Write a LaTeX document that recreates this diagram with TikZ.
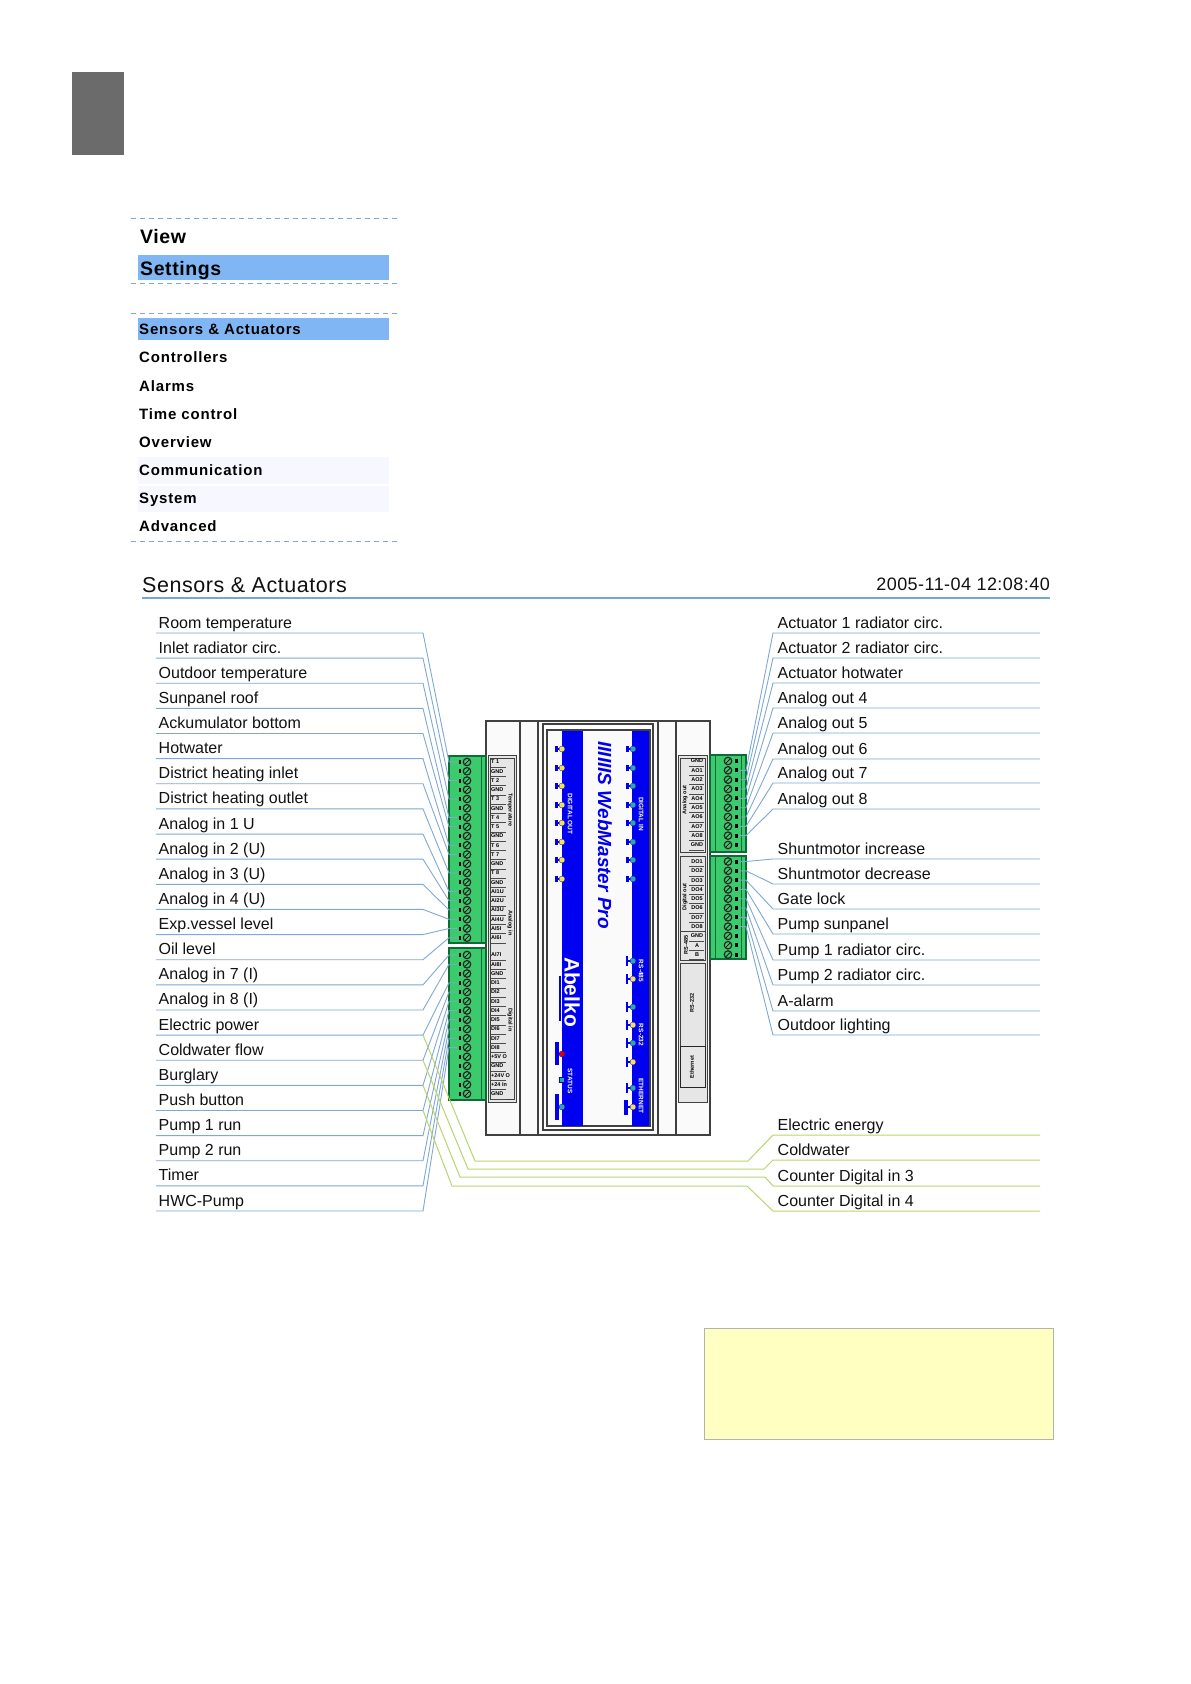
\documentclass[tikz,border=0pt]{standalone}
\usepackage{fontspec}
\setmainfont{Liberation Sans}
\newfontfamily\menufont[LetterSpace=5.5]{Liberation Sans}
\newfontfamily\menubigfont[LetterSpace=3]{Liberation Sans}
\newfontfamily\titlefont[LetterSpace=2.5]{Liberation Sans}
\definecolor{wire}{HTML}{7FA8D2}
\definecolor{headline}{HTML}{78A6D4}
\definecolor{greenwire}{HTML}{B9D56B}
\definecolor{menublue}{HTML}{80B6F4}
\definecolor{dash}{HTML}{7FA8D2}
\definecolor{termgreen}{HTML}{3CCB6C}
\definecolor{termdark}{HTML}{0E6B35}
\definecolor{devblue}{HTML}{0000F0}
\definecolor{txt}{HTML}{111111}
\definecolor{ledy}{HTML}{F4E04A}
\definecolor{ledt}{HTML}{2FA6A0}
\definecolor{stripfill}{HTML}{E6E6E6}
\definecolor{notefill}{HTML}{FFFFC2}
\tikzset{
 x=1pt,y=-1pt,
 lbl/.style={anchor=base west,inner sep=0pt,text=txt,font=\fontsize{16}{16}\selectfont},
 menuitem/.style={anchor=base west,inner sep=0pt,text=black,font=\menufont\bfseries\fontsize{15}{15}\selectfont},
 menubig/.style={anchor=base west,inner sep=0pt,text=black,font=\menubigfont\bfseries\fontsize{19.5}{20}\selectfont},
 dashrule/.style={draw=dash,line width=1pt,dash pattern=on 5pt off 4pt},
 wireline/.style={draw=wire,line width=0.9pt},
 gwire/.style={draw=greenwire,line width=1pt},
 devline/.style={draw=black!75,line width=1.1pt},
 strip/.style={draw=black!75,line width=1pt,fill=stripfill},
 termblock/.style={draw=termdark,line width=1.2pt,fill=termgreen},
 screw/.style={circle,draw=black!85,line width=1.2pt,fill=termgreen,minimum size=7.5pt,inner sep=0pt},
 rowtxt/.style={inner sep=0pt,text=black,font=\bfseries\fontsize{5.5}{6}\selectfont},
 sidetxt/.style={inner sep=0pt,text=black,font=\bfseries\fontsize{5.5}{6}\selectfont},
 panelw/.style={inner sep=0pt,text=white,font=\bfseries\fontsize{6.5}{7}\selectfont,rotate=-90},
 ledbar/.style={fill=devblue,draw=none},
}
\begin{document}
\begin{tikzpicture}
\useasboundingbox (0,0) rectangle (1191,1684);
\fill[white] (0,0) rectangle (1191,1684);
\fill[black!58] (72,72) rectangle (124,155);
% menus
\fill[menublue] (138,255) rectangle (389,280);
\fill[menublue] (138,318) rectangle (389,340);
\fill[blue!3] (138,457) rectangle (389,484);
\fill[blue!3] (138,486) rectangle (389,512);
\coordinate (da) at (131,218); \coordinate (db) at (398,218);
\coordinate (dc) at (131,283); \coordinate (dd) at (398,283);
\coordinate (de) at (131,313); \coordinate (df) at (398,313);
\coordinate (dg) at (131,541); \coordinate (dh) at (398,541);
\draw[dashrule] (da)--(db); \draw[dashrule] (dc)--(dd); \draw[dashrule] (de)--(df); \draw[dashrule] (dg)--(dh);
\node[menubig] (mv) at (140,243) {View};
\node[menubig] (ms) at (140,275) {Settings};
\foreach \n/\yy/\txta in {a/334/Sensors \& Actuators,b/362/Controllers,c/391/Alarms,d/419/Time control,e/447/Overview,f/475/Communication,g/503/System,h/531/Advanced}
 \node[menuitem] (m\n) at (139,\yy) {\txta};
% header
\node[anchor=base west,inner sep=0pt,text=txt,font=\titlefont\fontsize{21.5}{22}\selectfont] (title) at (142,592) {Sensors \& Actuators};
\node[anchor=base east,inner sep=0pt,text=txt,font=\titlefont\fontsize{18}{18}\selectfont] (date) at (1050,590) {2005-11-04 12:08:40};
\coordinate (ha) at (142,598); \coordinate (hb) at (1050,598);
\draw[draw=headline,line width=1.8pt] (ha)--(hb);
% device
\draw[devline,fill=black!2] (486,721) rectangle (710,1135);
\coordinate (v1a) at (520,721); \coordinate (v1b) at (520,1135);
\coordinate (v2a) at (538,721); \coordinate (v2b) at (538,1135);
\coordinate (v3a) at (658,721); \coordinate (v3b) at (658,1135);
\coordinate (v4a) at (676,721); \coordinate (v4b) at (676,1135);
\draw[devline] (v1a)--(v1b); \draw[devline] (v2a)--(v2b); \draw[devline] (v3a)--(v3b); \draw[devline] (v4a)--(v4b);
\draw[devline,fill=white] (543,724) rectangle (653,1130);
\draw[devline,fill=black!2] (547,730) rectangle (650,1126);
\fill[devblue] (562,731) rectangle (583,1125.5);
\fill[devblue] (632,731) rectangle (649,1125.5);
% LEDs
\foreach \yy in {749,768,786,805,823,842,860,879}{
 \fill[ledbar] (555,\yy-3) rectangle (558,\yy+3);
 \fill[ledbar] (558,\yy-1) rectangle (560,\yy+1);
 \fill[ledy,draw=devblue,line width=.3pt] (562,\yy) circle (3);
 \fill[ledbar] (626,\yy-3) rectangle (629,\yy+3);
 \fill[ledbar] (629,\yy-1) rectangle (631,\yy+1);
 \fill[ledt,draw=devblue,line width=.3pt] (633,\yy) circle (3);
}
\foreach \yy/\cc in {961/ledt,979/ledy,1007/ledt,1025/ledy,1043/ledt,1062/ledy,1088/ledt,1107/ledy}{
 \fill[ledbar] (625.5,\yy-5) rectangle (628,\yy+5);
 \fill[ledbar] (628,\yy-1) rectangle (631,\yy+1);
 \fill[\cc,draw=devblue,line width=.3pt] (633,\yy) circle (3);
}
\fill[ledbar] (624,1100) rectangle (627.5,1115);
\fill[ledbar] (559,976) rectangle (561,1021);
\fill[ledbar] (555,1042) rectangle (559,1065);
\fill[ledbar] (559,1053) rectangle (561,1055);
\fill[red!85!black,draw=devblue,line width=.3pt] (562,1054) circle (3);
\fill[ledt,draw=devblue,line width=.3pt] (559.5,1077.5) rectangle (564.5,1082.5);
\fill[ledbar] (555,1094) rectangle (559,1120);
\fill[ledbar] (559,1106) rectangle (561,1108);
\fill[ledt,draw=devblue,line width=.3pt] (562,1107) circle (3);
% panel texts
\node[panelw] (tdo) at (570,814) {DIGITAL OUT};
\node[panelw] (tdi) at (641,814) {DIGITAL IN};
\node[panelw] (t485) at (641,971) {RS-485};
\node[panelw] (t232) at (641,1035) {RS-232};
\node[panelw] (teth) at (641,1096) {ETHERNET};
\node[panelw] (tst) at (570,1081) {STATUS};
\node[inner sep=0pt,text=devblue,rotate=-90,font=\bfseries\itshape\fontsize{19}{20}\selectfont] (wm) at (605,835) {IIIIIIS WebMaster Pro};
\node[inner sep=0pt,text=white,rotate=-90,font=\bfseries\fontsize{21}{21}\selectfont] (abk) at (572,992) {Abelko};
% strips
\draw[strip] (488,755) rectangle (516,1102);
\draw[draw=black!75,line width=.8pt] (490,758) rectangle (514,1099);
\draw[strip] (678,755) rectangle (707,1102);
\draw[draw=black!75,fill=stripfill,line width=.8pt] (680,758) rectangle (705,852);
\draw[draw=black!75,fill=stripfill,line width=.8pt] (680,856) rectangle (705,960);
\draw[draw=black!75,fill=stripfill,line width=.8pt] (680,963) rectangle (705,1046);
\draw[draw=black!85,fill=stripfill,line width=.8pt] (680,1046) rectangle (705,1087);
\draw[draw=black!75,line width=.8pt] (680,931) -- (705,931);
% left strip rows
\foreach \k/\txta in {0/T 1,1/GND,2/T 2,3/GND,4/T 3,5/GND,6/T 4,7/T 5,8/GND,9/T 6,10/T 7,11/GND,12/T 8,13/GND,14/AI1U,15/AI2U,16/AI3U,17/AI4U,18/AI5I,19/AI6I}{
 \node[rowtxt,anchor=west] (lr\k) at (491,{762+9.25*\k}) {\txta};
 \draw[black!70,line width=.5pt] (491,{767+9.25*\k}) -- (506,{767+9.25*\k});
}
\foreach \k/\txta in {0/AI7I,1/AI8I,2/GND,3/DI1,4/DI2,5/DI3,6/DI4,7/DI5,8/DI6,9/DI7,10/DI8,11/+5V O,12/GND,13/+24V O,14/+24 In,15/GND}{
 \node[rowtxt,anchor=west] (ls\k) at (491,{955+9.25*\k}) {\txta};
 \draw[black!70,line width=.5pt] (491,{960+9.25*\k}) -- (506,{960+9.25*\k});
}
\node[sidetxt,rotate=-90] (s1) at (510,810) {Temperature};
\node[sidetxt,rotate=-90] (s2) at (510,923) {Analog in};
\node[sidetxt,rotate=-90] (s3) at (510,1020) {Digital in};
% right strip rows
\foreach \k/\txta in {0/GND,1/AO1,2/AO2,3/AO3,4/AO4,5/AO5,6/AO6,7/AO7,8/AO8,9/GND}{
 \node[rowtxt] (rr\k) at (697,{761+9.33*\k}) {\txta};
 \draw[black!70,line width=.5pt] (689,{766+9.33*\k}) -- (704,{766+9.33*\k});
}
\foreach \k/\txta in {0/DO1,1/DO2,2/DO3,3/DO4,4/DO5,5/DO6,6/DO7,7/DO8,8/GND,9/A,10/B}{
 \node[rowtxt] (rs\k) at (697,{861.5+9.3*\k}) {\txta};
 \draw[black!70,line width=.5pt] (689,{866.5+9.3*\k}) -- (704,{866.5+9.3*\k});
}
\node[sidetxt,rotate=90] (s4) at (685,800) {Analog out};
\node[sidetxt,rotate=90] (s5) at (685,897) {Digital out};
\node[sidetxt,rotate=90] (s6) at (686,945) {RS-485};
\node[sidetxt,rotate=90] (s7) at (692,1003) {RS-232};
\node[sidetxt,rotate=90] (s8) at (692,1067) {Ethernet};
% terminal blocks
\draw[termblock] (449,756) rectangle (486,943);
\draw[termblock] (449,948) rectangle (486,1100);
\draw[termdark,line width=1pt] (481,756)--(481,943) (481,948)--(481,1100);
\draw[termblock] (710,755) rectangle (746,852);
\draw[termblock] (710,856) rectangle (746,959);
\draw[termdark,line width=1pt] (715,755)--(715,852) (741,755)--(741,852) (715,856)--(715,959) (741,856)--(741,959);
\foreach \k in {0,...,19}{
 \node[screw] (ka\k) at (467,{762+9.25*\k}) {};
 \fill[black] (458.5,{760+9.25*\k}) rectangle (461,{764+9.25*\k});
 \draw[black,line width=.7pt] (465,{764+9.25*\k}) -- (469,{760+9.25*\k});
}
\foreach \k in {0,...,15}{
 \node[screw] (kb\k) at (467,{955+9.25*\k}) {};
 \fill[black] (458.5,{953+9.25*\k}) rectangle (461,{957+9.25*\k});
 \draw[black,line width=.7pt] (465,{957+9.25*\k}) -- (469,{953+9.25*\k});
}
\foreach \k in {0,...,9}{
 \node[screw] (kc\k) at (728,{761+9.33*\k}) {};
 \fill[black] (735,{759+9.33*\k}) rectangle (737.5,{763+9.33*\k});
 \draw[black,line width=.7pt] (726,{763+9.33*\k}) -- (730,{759+9.33*\k});
}
\foreach \k in {0,...,10}{
 \node[screw] (kd\k) at (728,{861.5+9.3*\k}) {};
 \fill[black] (735,{859.5+9.3*\k}) rectangle (737.5,{863.5+9.3*\k});
 \draw[black,line width=.7pt] (726,{863.5+9.3*\k}) -- (730,{859.5+9.3*\k});
}
% left labels and wires
\foreach \i/\e/\txta in {0/762/Room temperature,1/780.5/Inlet radiator circ.,2/799/Outdoor temperature,3/817.5/Sunpanel roof,4/826.75/Ackumulator bottom,5/845.25/Hotwater,6/854.5/District heating inlet,7/873/District heating outlet,8/891.5/Analog in 1 U,9/900.75/Analog in 2 (U),10/910/Analog in 3 (U),11/919.25/Analog in 4 (U),12/928.5/Exp.vessel level,13/937.75/Oil level,14/955/Analog in 7 (I),15/964.25/Analog in 8 (I),16/982.75/Electric power,17/992/Coldwater flow,18/1001.25/Burglary,19/1010.5/Push button,20/1019.75/Pump 1 run,21/1029/Pump 2 run,22/1038.25/Timer,23/1047.5/HWC-Pump}{
 \pgfmathsetmacro\yy{633+25.13*\i}
 \coordinate (la\i) at (156,\yy);
 \coordinate (lb\i) at (423,\yy);
 \coordinate (lc\i) at (457,\e);
 \coordinate (ld\i) at (449,\e);
 \node[lbl] (ln\i) at (158.5,\yy-5) {\txta};
 \draw[wireline] (la\i) -- (lb\i) -- (ld\i) -- (lc\i);
}
% right labels and wires
\foreach \i/\yy/\e/\txta in {0/633/770.3/Actuator 1 radiator circ.,1/658/779.7/Actuator 2 radiator circ.,2/683/789/Actuator hotwater,3/708/798.3/Analog out 4,4/733/807.7/Analog out 5,5/759/817/Analog out 6,6/783/826.3/Analog out 7,7/809/835.6/Analog out 8,8/859/861.5/Shuntmotor increase,9/884/870.8/Shuntmotor decrease,10/909/880.1/Gate lock,11/934/889.4/Pump sunpanel,12/960/898.7/Pump 1 radiator circ.,13/985/908/Pump 2 radiator circ.,14/1011/917.3/A-alarm,15/1035/926.6/Outdoor lighting}{
 \coordinate (ra\i) at (1040,\yy);
 \coordinate (rb\i) at (773,\yy);
 \coordinate (rc\i) at (739,\e);
 \coordinate (rd\i) at (746,\e);
 \node[lbl] (rn\i) at (777.5,\yy-5) {\txta};
 \draw[wireline] (ra\i) -- (rb\i) -- (rd\i) -- (rc\i);
}
% counter wires
\foreach \i/\yy/\s/\ax/\ay/\bx/\by/\txta in {
 0/1135/16/475/1161/748/1161/Electric energy,
 1/1160/17/468/1169/764/1169/Coldwater,
 2/1186/18/460/1177/765/1177/Counter Digital in 3,
 3/1211/19/452/1186/747/1186/Counter Digital in 4}{
 \coordinate (ga\i) at (1040,\yy);
 \coordinate (gb\i) at (773,\yy);
 \coordinate (gc\i) at (\bx,\by);
 \coordinate (gd\i) at (\ax,\ay);
 \node[lbl] (gn\i) at (777.5,\yy-5) {\txta};
 \draw[gwire] (ga\i) -- (gb\i) -- (gc\i) -- (gd\i) -- (lb\s);
}
% yellow box
\draw[draw=black!30,fill=notefill,line width=.8pt] (704,1328) rectangle (1053.5,1439);
\end{tikzpicture}
\end{document}
